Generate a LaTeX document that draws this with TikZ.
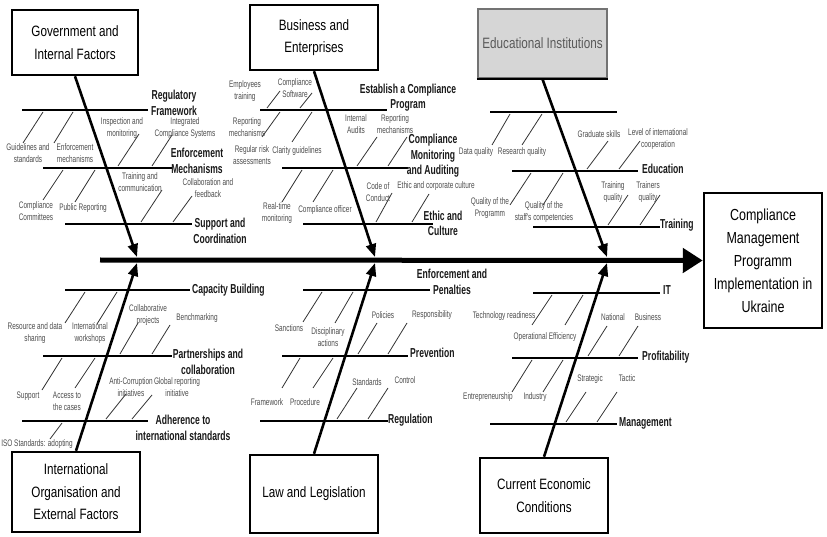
\documentclass[tikz,border=0pt]{standalone}
\usepackage{fontspec}
\usepackage{tikz}
\usetikzlibrary{arrows.meta}
\newfontfamily\boxfont[FakeStretch=0.78]{Liberation Sans}
\newfontfamily\bonefont[FakeStretch=0.66]{Liberation Sans}
\newfontfamily\twigfont[FakeStretch=0.68]{Liberation Sans}

\begin{document}
\begin{tikzpicture}[x=1pt, y=-1pt,
    factor/.style={draw, line width=2.5pt, inner sep=0, align=center,
        font=\boxfont\fontsize{15}{22.5}\selectfont},
    bonelabel/.style={inner sep=0, align=center, text=black!90,
        font=\bonefont\bfseries\fontsize{13}{15.5}\selectfont},
    twiglabel/.style={inner sep=0, align=center, text=black!70,
        font=\twigfont\fontsize{9.5}{12}\selectfont},
    bone/.style={line width=2.6pt},
    twig/.style={line width=0.8pt, black!80},
    cause/.style={line width=2.6pt, -{Triangle[length=13pt, width=10pt]}},
    spine/.style={line width=5pt, -{Triangle[length=20pt, width=24pt]}}]
    \useasboundingbox (0,0) rectangle (827,537);

    % ==========================================
    % EFFECT AND SPINE
    % ==========================================
    \node[factor, minimum width=118, minimum height=135,
        font=\boxfont\fontsize{16}{23}\selectfont] (result) at (763,260.5)
        {Compliance\\Management\\Programm\\Implementation in\\Ukraine};
    \coordinate (tail) at (100,260);
    \draw[spine] (tail) -- (result.west);

    % Joints on the spine
    \coordinate (govJoin) at (137,257);
    \coordinate (busJoin) at (375,257);
    \coordinate (eduJoin) at (607,257);
    \coordinate (intJoin) at (137,263);
    \coordinate (lawJoin) at (375,263);
    \coordinate (ecoJoin) at (607,263);

    % ==========================================
    % CAUSE BOXES
    % ==========================================
    \node[factor, minimum width=126, minimum height=65] (gov) at (75,42.5)
        {Government and\\Internal Factors};
    \node[factor, minimum width=128, minimum height=65] (bus) at (314,37.5)
        {Business and\\Enterprises};
    \node[factor, fill=black!16, draw=black!55, text=black!65,
        minimum width=129, minimum height=69] (edu) at (542.5,43.5)
        {Educational Institutions};
    \draw[line width=2.5pt] (edu.south west) -- (edu.south east);

    \node[factor, minimum width=128, minimum height=80] (int) at (76,492)
        {International\\Organisation and\\External Factors};
    \node[factor, minimum width=128, minimum height=78] (law) at (314,494)
        {Law and Legislation};
    \node[factor, minimum width=128, minimum height=75] (eco) at (544,495.5)
        {Current Economic\\Conditions};

    % ==========================================
    % GOVERNMENT AND INTERNAL FACTORS
    % ==========================================
    \draw[bone] (22,110) -- (148,110);
    \node[bonelabel] (regFw) at (174,103) {Regulatory\\Framework};
    \draw[twig] (43,112) -- (23,143);
    \draw[twig] (73,112) -- (54,143);
    \node[twiglabel] (guide) at (28,153.5) {Guidelines and\\standards};
    \node[twiglabel] (enfMech) at (75,153.5) {Enforcement\\mechanisms};

    \draw[bone] (43,168) -- (172,168);
    \node[bonelabel] (enforce) at (197,161) {Enforcement\\Mechanisms};
    \draw[twig] (139,134) -- (118,166);
    \draw[twig] (172,135) -- (152,166);
    \node[twiglabel] (inspect) at (122,128) {Inspection and\\monitoring};
    \node[twiglabel] (integr) at (185,128) {Integrated\\Compliance Systems};
    \draw[twig] (63,170) -- (43,200);
    \draw[twig] (95,170) -- (75,202);
    \node[twiglabel] (commit) at (36,211) {Compliance\\Committees};
    \node[twiglabel] (pubRep) at (83,208) {Public Reporting};

    \draw[bone] (65,224) -- (192,224);
    \node[bonelabel] (support) at (220,231) {Support and\\Coordination};
    \draw[twig] (162,190) -- (141,222);
    \draw[twig] (192,196) -- (173,222);
    \node[twiglabel] (train) at (140,182) {Training and\\communication};
    \node[twiglabel] (collab) at (208,188) {Collaboration and\\feedback};

    \draw[cause] (gov.south) -- (govJoin);

    % ==========================================
    % BUSINESS AND ENTERPRISES
    % ==========================================
    \draw[bone] (260,110) -- (387,110);
    \node[bonelabel] (establish) at (408,97.5) {Establish a Compliance\\Program};
    \draw[twig] (280,91) -- (267,108);
    \draw[twig] (312,93) -- (300,108);
    \node[twiglabel] (employ) at (245,91) {Employees\\training};
    \node[twiglabel] (software) at (295,88) {Compliance\\Software};
    \draw[twig] (280,112) -- (262,137);
    \draw[twig] (312,112) -- (292,142);
    \node[twiglabel] (repMech) at (247,127) {Reporting\\mechanisms};
    \node[twiglabel] (risk) at (252,155) {Regular risk\\assessments};
    \node[twiglabel] (clarity) at (297,151) {Clarity guidelines};

    \draw[bone] (282,168) -- (408,168);
    \node[bonelabel] (monitor) at (433,156) {Compliance\\Monitoring\\and Auditing};
    \draw[twig] (377,137) -- (357,166);
    \draw[twig] (407,137) -- (388,166);
    \node[twiglabel] (audits) at (356,124) {Internal\\Audits};
    \node[twiglabel] (repMechB) at (395,124) {Reporting\\mechanisms};
    \draw[twig] (302,170) -- (282,202);
    \draw[twig] (333,170) -- (313,202);
    \node[twiglabel] (realTime) at (277,213) {Real-time\\monitoring};
    \node[twiglabel] (officer) at (325,210) {Compliance officer};

    \draw[bone] (303,224) -- (433,224);
    \node[bonelabel] (ethic) at (443,223.5) {Ethic and\\Culture};
    \draw[twig] (392,193) -- (376,222);
    \draw[twig] (429,194) -- (412,222);
    \node[twiglabel] (conduct) at (378,192) {Code of\\Conduct};
    \node[twiglabel] (corporate) at (436,186) {Ethic and corporate culture};

    \draw[cause] (bus.south) -- (busJoin);

    % ==========================================
    % EDUCATIONAL INSTITUTIONS
    % ==========================================
    \draw[bone] (490,112) -- (617,112);
    \draw[twig] (510,114) -- (492,145);
    \draw[twig] (542,114) -- (522,145);
    \node[twiglabel] (dataQ) at (476,152) {Data quality};
    \node[twiglabel] (research) at (522,152) {Research quality};

    \draw[bone] (512,171) -- (638,171);
    \node[bonelabel, anchor=west] (educ) at (642,169) {Education};
    \draw[twig] (608,141) -- (587,169);
    \draw[twig] (640,141) -- (619,169);
    \node[twiglabel] (gradSkill) at (599,134) {Graduate skills};
    \node[twiglabel] (levelInt) at (658,139) {Level of international\\cooperation};
    \draw[twig] (531,173) -- (510,205);
    \draw[twig] (563,173) -- (543,205);
    \node[twiglabel] (qProg) at (490,208) {Quality of the\\Programm};
    \node[twiglabel] (qStaff) at (544,212) {Quality of the\\staff's competencies};

    \draw[bone] (533,227) -- (660,227);
    \node[bonelabel, anchor=west] (training) at (660,225) {Training};
    \draw[twig] (628,195) -- (608,225);
    \draw[twig] (660,195) -- (640,225);
    \node[twiglabel] (trainQ) at (613,192) {Training\\quality};
    \node[twiglabel] (trainerQ) at (648,192) {Trainers\\quality};

    \draw[cause] (edu.south) -- (eduJoin);

    % ==========================================
    % INTERNATIONAL ORGANISATION AND EXTERNAL FACTORS
    % ==========================================
    \draw[bone] (65,290) -- (190,290);
    \node[bonelabel, anchor=west] (capacity) at (192,290) {Capacity Building};
    \draw[twig] (85,292) -- (65,323);
    \draw[twig] (117,292) -- (97,324);
    \node[twiglabel] (resource) at (35,333) {Resource and data\\sharing};
    \node[twiglabel] (workshop) at (90,333) {International\\workshops};

    \draw[bone] (43,356) -- (172,356);
    \node[bonelabel] (partner) at (208,362) {Partnerships and\\collaboration};
    \draw[twig] (138,323) -- (120,354);
    \draw[twig] (170,325) -- (152,354);
    \node[twiglabel] (collProj) at (148,315) {Collaborative\\projects};
    \node[twiglabel] (bench) at (197,318) {Benchmarking};
    \draw[twig] (62,358) -- (42,390);
    \draw[twig] (95,358) -- (75,388);
    \node[twiglabel] (supp) at (28,396) {Support};
    \node[twiglabel] (access) at (67,401) {Access to\\the cases};

    \draw[bone] (22,421) -- (148,421);
    \node[bonelabel] (adhere) at (183,428) {Adherence to\\international standards};
    \draw[twig] (126,394) -- (106,419);
    \draw[twig] (152,395) -- (132,419);
    \node[twiglabel] (antiCorr) at (131,387) {Anti-Corruption\\initiatives};
    \node[twiglabel] (global) at (177,387) {Global reporting\\initiative};
    \draw[twig] (62,423) -- (50,439);
    \node[twiglabel] (iso) at (37,444) {ISO Standards: adopting};

    \draw[cause] (int.north) -- (intJoin);

    % ==========================================
    % LAW AND LEGISLATION
    % ==========================================
    \draw[bone] (303,290) -- (430,290);
    \node[bonelabel] (penalty) at (452,282) {Enforcement and\\Penalties};
    \draw[twig] (322,292) -- (303,322);
    \draw[twig] (353,292) -- (335,323);
    \node[twiglabel] (sanction) at (289,328) {Sanctions};
    \node[twiglabel] (discipl) at (328,337) {Disciplinary\\actions};

    \draw[bone] (282,356) -- (408,356);
    \node[bonelabel, anchor=west] (prevent) at (410,353) {Prevention};
    \draw[twig] (377,323) -- (358,354);
    \draw[twig] (407,323) -- (388,354);
    \node[twiglabel] (policy) at (383,315) {Policies};
    \node[twiglabel] (respons) at (432,315) {Responsibility};
    \draw[twig] (300,358) -- (282,388);
    \draw[twig] (333,358) -- (313,388);
    \node[twiglabel] (frame) at (267,402) {Framework};
    \node[twiglabel] (proced) at (305,402) {Procedure};

    \draw[bone] (260,421) -- (388,421);
    \node[bonelabel, anchor=west] (regul) at (388,420) {Regulation};
    \draw[twig] (357,388) -- (337,419);
    \draw[twig] (388,388) -- (368,419);
    \node[twiglabel] (standard) at (367,382) {Standards};
    \node[twiglabel] (control) at (405,380) {Control};

    \draw[cause] (law.north) -- (lawJoin);

    % ==========================================
    % CURRENT ECONOMIC CONDITIONS
    % ==========================================
    \draw[bone] (533,293) -- (660,293);
    \node[bonelabel, anchor=west] (it) at (663,290) {IT};
    \draw[twig] (552,295) -- (532,325);
    \draw[twig] (583,295) -- (565,325);
    \node[twiglabel] (techReady) at (504,316) {Technology readiness};
    \node[twiglabel] (opEff) at (545,337) {Operational Efficiency};

    \draw[bone] (512,358) -- (638,358);
    \node[bonelabel, anchor=west] (profit) at (642,357) {Profitability};
    \draw[twig] (607,326) -- (588,356);
    \draw[twig] (638,326) -- (619,356);
    \node[twiglabel] (national) at (613,317) {National};
    \node[twiglabel] (businessB) at (648,317) {Business};
    \draw[twig] (532,360) -- (512,392);
    \draw[twig] (563,360) -- (543,392);
    \node[twiglabel] (entre) at (488,397) {Entrepreneurship};
    \node[twiglabel] (industry) at (535,397) {Industry};

    \draw[bone] (490,424) -- (617,424);
    \node[bonelabel, anchor=west] (manage) at (619,423) {Management};
    \draw[twig] (586,392) -- (566,422);
    \draw[twig] (617,392) -- (597,422);
    \node[twiglabel] (strat) at (590,379) {Strategic};
    \node[twiglabel] (tactic) at (627,378) {Tactic};

    \draw[cause] (eco.north) -- (ecoJoin);
\end{tikzpicture}
\end{document}
